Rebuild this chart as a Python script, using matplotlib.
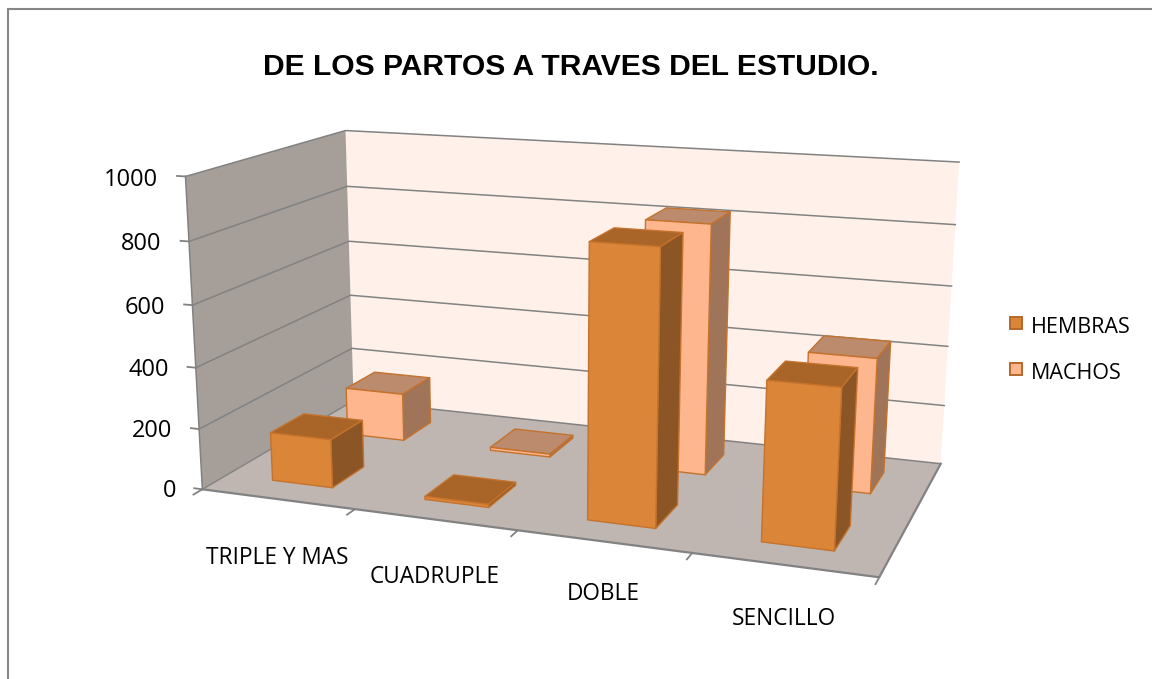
import numpy as np
import matplotlib
matplotlib.use("Agg")
import matplotlib.pyplot as plt
from matplotlib.patches import Rectangle
from matplotlib.transforms import ScaledTranslation
from mpl_toolkits.mplot3d import proj3d
from mpl_toolkits.mplot3d.art3d import Poly3DCollection

categories = ["TRIPLE Y MAS", "CUADRUPLE", "DOBLE", "SENCILLO"]
hembras = [160, 10, 855, 490]
machos = [165, 10, 825, 440]
series = [("HEMBRAS", hembras), ("MACHOS", machos)]
yticks = [0, 200, 400, 600, 800, 1000]

plt.rcParams["font.family"] = ["Open Sans", "DejaVu Sans"]
PW, PH = 1152, 679
fig = plt.figure(figsize=(PW/100, PH/100), dpi=100)
fig.patch.set_facecolor("white")

# square axes spanning the figure width (Axes3D keeps a square box)
ax = fig.add_axes([0, (PH-PW)/2/PH, 1, PW/PH], projection="3d", computed_zorder=False)
ax.set_axis_off()
ax.patch.set_alpha(0)
ax.set_proj_type("ortho")  # switches off mplot3d's line clipping; the matrix below sets the view
W, D, H = 4.0, 2.0, 1000.0
ax.set_xlim(0, W); ax.set_ylim(0, D); ax.set_zlim(0, H)
ax.apply_aspect()

# camera calibrated from the corners of the plot box (box corner -> picture pixel)
box_corners = [(0,0,0),(W,0,0),(W,D,0),(0,D,0),(0,0,H),(0,D,H),(W,D,H)]
box_pixels = [(203,490),(879,577),(941,464),(353,400),(185,176),(346,131),(959,162)]
disp = np.array([(px, PH-py) for px, py in box_pixels], float)
uv = ax.transData.inverted().transform(disp)
su = np.abs(uv).max()
rows = []
for (x,y,z),(u,v) in zip(box_corners, uv/su):
    X = [x/W, y/D, z/H, 1]
    rows.append(X+[0,0,0,0]+[-u*c for c in X])
    rows.append([0,0,0,0]+X+[-v*c for c in X])
P = np.linalg.svd(np.array(rows))[2][-1].reshape(3,4)
P = P/P[2,3]
P[:2] *= su
P = P*np.array([1/W,1/D,1/H,1])
null = np.linalg.svd(P)[2][-1]
M = np.array([P[0],P[1],-0.5*P[2]+1e-3*null,P[2]])
ax.get_proj = lambda: M

def quad(pts, fc, ec="none", z=1, lw=1.0):
    ax.add_collection3d(Poly3DCollection([pts], facecolors=fc, edgecolors=ec, linewidths=lw, zorder=z), autolim=False)

def label(x, y, z, s, drop_px=0, **kw):
    u, v, _ = proj3d.proj_transform(x, y, z, M)
    tr = ax.transData + ScaledTranslation(0, -drop_px/100, fig.dpi_scale_trans)
    ax.text2D(u, v, s, transform=tr, color="black", **kw)

GRID = "#828282"
quad([(0,D,0),(W,D,0),(W,D,H),(0,D,H)], "#FFF1EA", z=1)
quad([(0,0,0),(0,D,0),(0,D,H),(0,0,H)], "#A59E99", z=1)
quad([(0,0,0),(W,0,0),(W,D,0),(0,D,0)], "#BFB6B2", z=1)
for v in yticks[1:]:
    ax.plot([0,0,W],[0,D,D],[v,v,v], color=GRID, lw=1.1, zorder=2)
ax.plot([0,W],[D,D],[0,0], color=GRID, lw=1.1, zorder=2)
ax.plot([0,0],[0,D],[0,0], color=GRID, lw=1.0, zorder=2)
ax.plot([0,W,W],[0,0,D],[0,0,0], color=GRID, lw=1.6, zorder=2)
ax.plot([0,0],[0,0],[0,H], color=GRID, lw=1.1, zorder=2)

for v in yticks:
    ax.plot([0,-0.055],[0,0],[v,v], color=GRID, lw=1.3, zorder=2)
    label(-0.18, 0, v, str(v), drop_px=5, ha="right", va="center", fontsize=17)
for i in range(len(categories)+1):
    ax.plot([i,i],[0,-0.1],[0,0], color=GRID, lw=1.3, zorder=2)
label_drop_px = [59, 57, 53, 54]
for i,c in enumerate(categories):
    label(i+0.5, 0, 0, c, drop_px=label_drop_px[i], ha="center", va="center", fontsize=16.3)

palette = {"HEMBRAS":("#DB8539","#A96428","#8C5526"), "MACHOS":("#FDB68E","#BC8A6C","#A07458")}
EDGE = "#C4722C"
y_start = {"HEMBRAS":0.3, "MACHOS":1.3}
bw, bd = 0.4, 0.42
z = 10
for name, vals in reversed(series):
    front, top, side = palette[name]
    for i,v in enumerate(vals):
        x0=i+0.3; x1=x0+bw; y0=y_start[name]; y1=y0+bd
        quad([(x0,y0,v),(x1,y0,v),(x1,y1,v),(x0,y1,v)], top, ec=EDGE, z=z)
        quad([(x1,y0,0),(x1,y1,0),(x1,y1,v),(x1,y0,v)], side, ec=EDGE, z=z)
        quad([(x0,y0,0),(x1,y0,0),(x1,y0,v),(x0,y0,v)], front, ec=EDGE, z=z)
        z+=1

fig.text(571/PW, 1-67/PH, "DE LOS PARTOS A TRAVES DEL ESTUDIO.", ha="center", va="center",
         fontsize=21.6, fontweight="bold", color="black", family="Liberation Sans")
for name,yy,ty in (("HEMBRAS",323,327),("MACHOS",369,373)):
    fig.add_artist(Rectangle((1010/PW,1-(yy+6)/PH),12/PW,12/PH,fc=palette[name][0],ec="#B5682A",lw=1.4,transform=fig.transFigure))
    fig.text(1031/PW,1-ty/PH,name,ha="left",va="center",fontsize=15.5)
# chart frame: its right and bottom sides lie outside the picture
fig.add_artist(Rectangle((8/PW,-1),2,1+670/PH,fill=False,ec="#868686",lw=1.5,transform=fig.transFigure))
fig.savefig("out.png", dpi=100)
